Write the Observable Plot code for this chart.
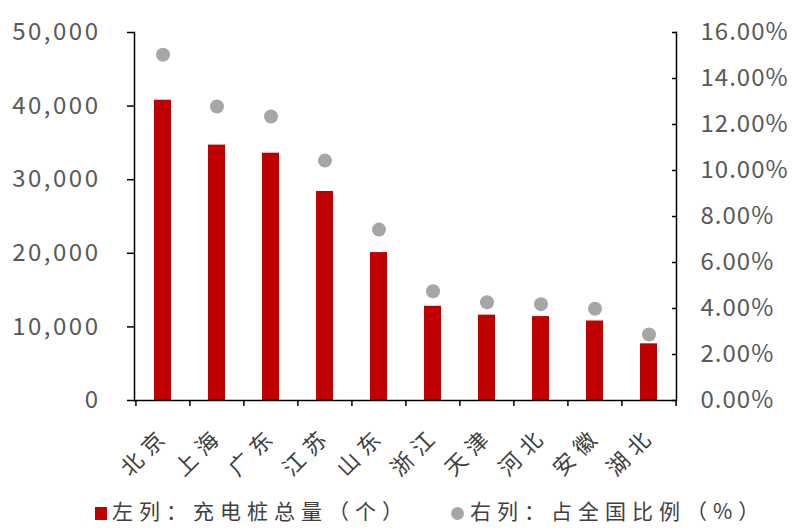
<!DOCTYPE html>
<html>
<head>
<meta charset="utf-8">
<script src="https://cdn.jsdelivr.net/npm/d3@7"></script>
<script src="https://cdn.jsdelivr.net/npm/@observablehq/plot@0.6"></script>
<style>
  body { margin: 0; background: #fff; }
  #wrap { width: 800px; position: relative; font-family: "Noto Sans CJK SC", sans-serif; }
  #legend { position: relative; height: 36px; width: 800px; color: #404040; font-size: 21px; letter-spacing: 6px; }
  #legend .sw { position: absolute; }
  #legend .lb { position: absolute; top: 0px; white-space: nowrap; line-height: 30px; }
  .lt text { letter-spacing: 2.5px; }
  .rt text { letter-spacing: 1px; }
  .xl text { letter-spacing: 7px; }
</style>
</head>
<body>
<div id="wrap">
  <div id="chart"></div>
  <div id="legend"></div>
</div>
<script>
const cats = ["北京","上海","广东","江苏","山东","浙江","天津","河北","安徽","湖北"];
const counts = [40800, 34700, 33600, 28400, 20100, 12800, 11600, 11400, 10800, 7700];
const shares = [15.03, 12.78, 12.35, 10.43, 7.43, 4.75, 4.27, 4.19, 3.99, 2.87];
const leftTicks = [0, 10000, 20000, 30000, 40000, 50000];
const rightTicks = [0, 2, 4, 6, 8, 10, 12, 14, 16];
const legendLabels = ["左列：充电桩总量（个）", "右列：占全国比例（%）"];

const yMax = 50000, pMax = 16;
const W = 800, H = 495, mT = 32, mB = 95, mL = 134, mR = 124;
const step = (W - mL - mR) / cats.length;
const pxToY = yMax / (H - mT - mB);

const data = cats.map((c, i) => ({cat: c, count: counts[i], share: shares[i]}));
const toLeft = p => p / pMax * yMax;

const chart = Plot.plot({
  width: W, height: H,
  marginTop: mT, marginBottom: mB, marginLeft: mL, marginRight: mR,
  style: {fontFamily: "Noto Sans CJK SC, sans-serif", background: "#fff"},
  x: {domain: cats, paddingInner: 0.69, paddingOuter: 0.345, axis: null},
  y: {domain: [0, yMax], axis: null},
  marks: [
    Plot.barY(data, {x: "cat", y: "count", fill: "#C00000"}),
    Plot.dot(data, {x: "cat", y: d => toLeft(d.share), r: 7, fill: "#A6A6A6", stroke: "none"}),
    Plot.frame({anchor: "left", stroke: "#000", strokeWidth: 1.5}),
    Plot.frame({anchor: "right", stroke: "#000", strokeWidth: 1.5}),
    Plot.ruleY([0], {stroke: "#000", strokeWidth: 1.5}),
    Plot.ruleX(cats, {x: d => d, dx: -step / 2, y1: 0, y2: -6 * pxToY, stroke: "#000", strokeWidth: 1.5}),
    Plot.ruleX([cats[cats.length - 1]], {x: d => d, dx: step / 2, y1: 0, y2: -6 * pxToY, stroke: "#000", strokeWidth: 1.5}),
    Plot.axisY(leftTicks, {anchor: "left", tickSize: 7, tickPadding: 27, tickFormat: d3.format(","),
      fontSize: 24, fill: "#595959", stroke: "#000", strokeWidth: 1.5, label: null, className: "lt"}),
    Plot.axisY(rightTicks.map(toLeft), {anchor: "right", tickSize: -5, tickPadding: 29,
      tickFormat: d => (d / yMax * pMax).toFixed(2) + "%",
      fontSize: 24, fill: "#595959", stroke: "#000", strokeWidth: 1.5, label: null, className: "rt"}),
    Plot.text(cats, {x: d => d, y: 0, dy: 31, dx: 3, rotate: -45, textAnchor: "end",
      fontSize: 22, fill: "#404040", className: "xl"})
  ]
});
document.getElementById("chart").appendChild(chart);

const lg = document.getElementById("legend");
lg.innerHTML =
  `<div class="sw" style="left:95px;top:12px;width:12px;height:13px;background:#C00000"></div>` +
  `<div class="lb" style="left:112px">${legendLabels[0]}</div>` +
  `<div class="sw" style="left:451px;top:12px;width:13px;height:13px;border-radius:50%;background:#A6A6A6"></div>` +
  `<div class="lb" style="left:470px">${legendLabels[1]}</div>`;
</script>
</body>
</html>
